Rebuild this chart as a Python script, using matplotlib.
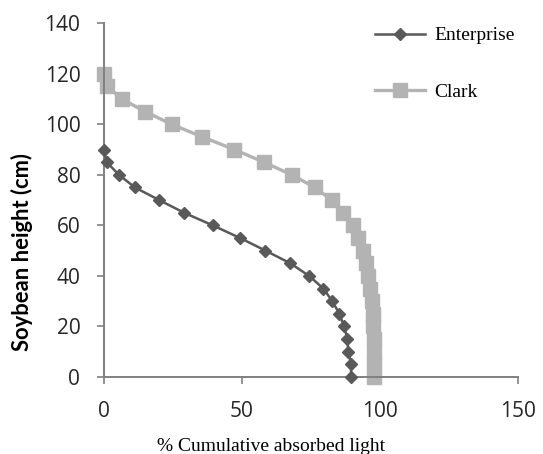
import numpy as np
import matplotlib
matplotlib.use('Agg')
import matplotlib.pyplot as plt

# soybean canopy height (cm) and % cumulative absorbed light
height_ent = [0, 5, 10, 15, 20, 25, 30, 35, 40, 45, 50, 55, 60, 65, 70, 75, 80, 85, 90]
light_ent = [89.5, 89.5, 88.5, 88.2, 87.0, 85.3, 82.7, 79.5, 74.3, 67.5, 58.5,
             49.3, 39.4, 29.0, 20.0, 11.2, 5.4, 1.0, 0.0]

height_clark = [0, 5, 10, 15, 20, 25, 30, 35, 40, 45, 50, 55, 60, 65, 70, 75,
                80, 85, 90, 95, 100, 105, 110, 115, 120]
light_clark = [97.8, 97.8, 97.8, 97.8, 97.6, 97.4, 97.0, 96.4, 95.8, 94.9, 93.7,
               92.1, 90.3, 86.7, 82.5, 76.4, 68.0, 57.9, 47.2, 35.6, 24.5, 14.9,
               6.4, 1.2, 0.0]

xticks = [0, 50, 100, 150]
yticks = [0, 20, 40, 60, 80, 100, 120, 140]

fig = plt.figure(figsize=(5.43, 4.54), dpi=100)
ax = fig.add_axes([0.1915, 0.1696, 0.7625, 0.7794])

ax.plot(light_ent, height_ent, color='#595959', lw=1.8, marker='D', ms=6,
        label='Enterprise', clip_on=False, zorder=3)
ax.plot(light_clark, height_clark, color='#b3b3b3', lw=2.4, marker='s', ms=9.5,
        label='Clark', clip_on=False, zorder=2)

ax.set_xlim(0, 150)
ax.set_ylim(0, 140)
ax.set_xticks(xticks)
ax.set_yticks(yticks)

for s in ['top', 'right']:
    ax.spines[s].set_visible(False)
for s in ['left', 'bottom']:
    ax.spines[s].set_color('#808080')
    ax.spines[s].set_linewidth(1.4)
ax.tick_params(direction='out', length=5, width=1.2, color='#808080',
               labelcolor='#262626', labelsize=15, pad=12)
for lab in ax.get_xticklabels() + ax.get_yticklabels():
    lab.set_family('Open Sans')

ax.set_xlabel('% Cumulative absorbed light', family='Liberation Serif',
              fontsize=14)
ax.xaxis.set_label_coords(0.403, -0.171)
ax.xaxis.label.set_va('top')
ax.set_ylabel('Soybean height (cm)', family='Lato', fontweight='bold',
              fontsize=15.8)
ax.yaxis.set_label_coords(-0.1715, 0.353)

leg = ax.legend(loc='upper left', bbox_to_anchor=(0.6906, 0.941),
                bbox_transform=fig.transFigure, frameon=False,
                prop={'family': 'Liberation Serif', 'size': 14},
                borderaxespad=0, borderpad=0,
                handlelength=2.57, labelspacing=2.0, handletextpad=0.46)

fig.savefig('out.png', dpi=100)
